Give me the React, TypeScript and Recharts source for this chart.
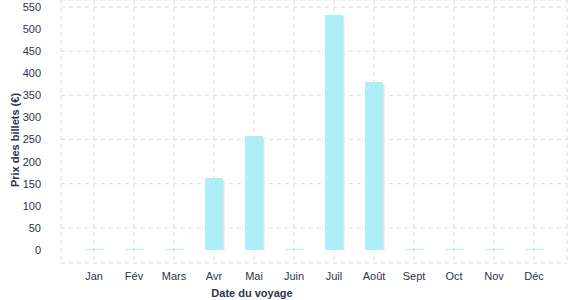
import { BarChart, Bar, XAxis, YAxis, CartesianGrid } from "recharts";

const months = ["Jan", "Fév", "Mars", "Avr", "Mai", "Juin", "Juil", "Août", "Sept", "Oct", "Nov", "Déc"];
const prices = [0, 0, 0, 163, 258, 0, 532, 380, 0, 0, 0, 0];
const yTicks = [0, 50, 100, 150, 200, 250, 300, 350, 400, 450, 500, 550];

const data = months.map((month, i) => ({ month, price: prices[i] }));

const textColor = "#2b3452";
const font = "'Liberation Sans', Arial, sans-serif";

function ShadowBar(props: any) {
  const { x, y, width, height } = props;
  if (!height) return null;
  return (
    <g>
      <rect x={x + 1.5} y={y + 1.5} width={width} height={Math.max(height - 1.5, 0)} fill="#e2e4e6" />
      <rect x={x} y={y} width={width} height={height} fill="#aeeef8" />
    </g>
  );
}

export default function App() {
  return (
    <div style={{ position: "absolute", left: 0, top: 0, fontFamily: font }}>
      <BarChart width={577} height={300} data={data} margin={{ top: 0, right: 10, bottom: 0, left: 0 }}>
        <CartesianGrid stroke="#dcdcdc" strokeDasharray="4 4" />
        <XAxis
          dataKey="month"
          height={37}
          axisLine={false}
          tickLine={false}
          tickSize={0}
          tickMargin={9}
          padding={{ left: 13, right: 13 }}
          tick={{ fill: textColor, fontSize: 11, fontFamily: font }}
          label={{ value: "Date du voyage", position: "center", dx: -62, dy: 11.5, fill: textColor, fontSize: 11, fontWeight: "bold", fontFamily: font }}
        />
        <YAxis
          width={61}
          domain={[0, 550]}
          ticks={yTicks}
          axisLine={false}
          tickLine={false}
          tickSize={0}
          tickMargin={20}
          padding={{ top: 7, bottom: 13 }}
          tick={{ fill: textColor, fontSize: 11, fontFamily: font }}
          label={{ value: "Prix des billets (€)", angle: -90, position: "center", dx: -15.5, dy: 8.5, fill: textColor, fontSize: 11, fontWeight: "bold", fontFamily: font }}
        />
        <Bar dataKey="price" barSize={18} minPointSize={1} shape={<ShadowBar />} isAnimationActive={false} />
      </BarChart>
    </div>
  );
}
